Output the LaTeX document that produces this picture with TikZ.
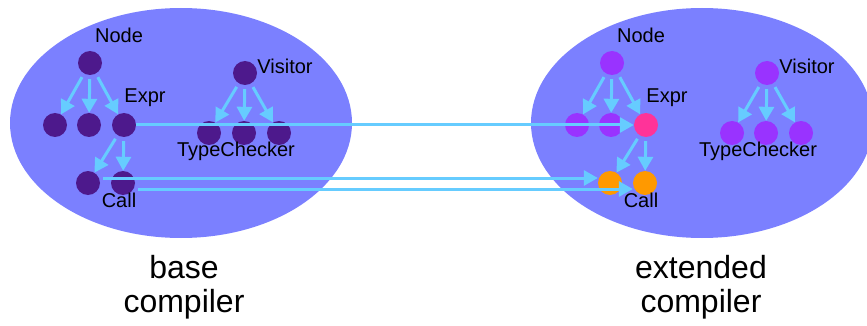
\documentclass[tikz,border=0pt]{standalone}
\usepackage{fontspec}
\setmainfont{Liberation Sans}
\usetikzlibrary{arrows.meta}
\definecolor{blob}{RGB}{123,128,255}
\definecolor{dk}{RGB}{77,25,140}
\definecolor{lp}{RGB}{153,51,255}
\definecolor{pk}{RGB}{255,51,153}
\definecolor{og}{RGB}{255,153,0}
\definecolor{cy}{RGB}{102,204,255}
\begin{document}
\begin{tikzpicture}[x=1pt,y=-1pt,
 dot/.style={circle,minimum size=24pt,inner sep=0pt},
 lbl/.style={anchor=base,inner sep=0pt,font=\fontsize{20}{24}\selectfont},
 big/.style={anchor=base,inner sep=0pt,font=\fontsize{32}{36}\selectfont},
 arr/.style={draw=cy,line width=3pt,-{Triangle[length=14pt,width=15pt]},shorten <=4pt},
 link/.style={draw=cy,line width=3pt,-{Triangle[length=14pt,width=15pt]}}]
\useasboundingbox (0,0) rectangle (867,326);
\fill[blob] (181,123) ellipse [x radius=171pt, y radius=115pt];
\fill[blob] (702,123) ellipse [x radius=171pt, y radius=115pt];
% left tree
\node[dot,fill=dk] (nL) at (90,63) {};
\node[dot,fill=dk] (aL) at (55,125) {};
\node[dot,fill=dk] (bL) at (89,125) {};
\node[dot,fill=dk] (eL) at (124,125) {};
\node[dot,fill=dk] (c1L) at (88,183) {};
\node[dot,fill=dk] (c2L) at (123,183) {};
\node[dot,fill=dk] (vL) at (245,73) {};
\node[dot,fill=dk] (t1L) at (209,133) {};
\node[dot,fill=dk] (t2L) at (244,133) {};
\node[dot,fill=dk] (t3L) at (279,133) {};
% right tree
\node[dot,fill=lp] (nR) at (612,63) {};
\node[dot,fill=lp] (aR) at (577,125) {};
\node[dot,fill=lp] (bR) at (611,125) {};
\node[dot,fill=pk] (eR) at (646,125) {};
\node[dot,fill=og] (c1R) at (610,183) {};
\node[dot,fill=og] (c2R) at (645,183) {};
\node[dot,fill=lp] (vR) at (767,73) {};
\node[dot,fill=lp] (t1R) at (732,133) {};
\node[dot,fill=lp] (t2R) at (766,133) {};
\node[dot,fill=lp] (t3R) at (801,133) {};
% labels
\node[lbl] (lnL) at (119,43) {Node};
\node[lbl] (leL) at (145,103) {Expr};
\node[lbl] (lvL) at (285,74) {Visitor};
\node[lbl] (ltL) at (236,157) {TypeChecker};
\node[lbl] (lcL) at (119,207) {Call};
\node[lbl] (lnR) at (641,43) {Node};
\node[lbl] (leR) at (667,103) {Expr};
\node[lbl] (lvR) at (807,74) {Visitor};
\node[lbl] (ltR) at (758,157) {TypeChecker};
\node[lbl] (lcR) at (641,207) {Call};
\node[big] (b1) at (184,278) {base};
\node[big] (b2) at (184,312) {compiler};
\node[big] (x1) at (701,278) {extended};
\node[big] (x2) at (701,312) {compiler};
% tree arrows
\foreach \p/\c in {nL/aL,nL/bL,nL/eL,eL/c1L,eL/c2L,vL/t1L,vL/t2L,vL/t3L,
                   nR/aR,nR/bR,nR/eR,eR/c1R,eR/c2R,vR/t1R,vR/t2R,vR/t3R}
  \draw[arr] (\p) -- (\c);
% links
\draw[link] (eL.east) -- (eR.west);
\draw[link] ([xshift=3pt,yshift=5pt]c1L.east) -- ([yshift=5pt]c1R.west);
\draw[link] ([xshift=3pt,yshift=-6pt]c2L.east) -- ([yshift=-6pt]c2R.west);
\end{tikzpicture}
\end{document}
